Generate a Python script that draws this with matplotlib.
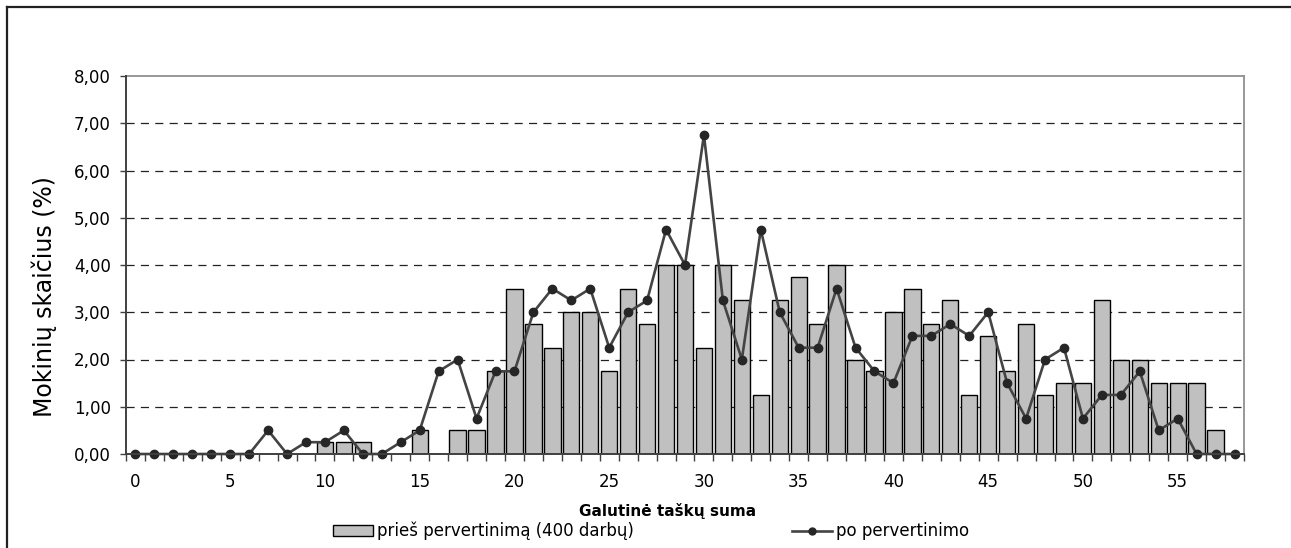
import matplotlib
matplotlib.use("Agg")
import matplotlib.pyplot as plt
from matplotlib.lines import Line2D
from matplotlib.patches import Patch
import numpy as np

# ---- data ----
scores = list(range(59))
before = [0, 0, 0, 0, 0, 0, 0, 0, 0, 0,
          0.25, 0.25, 0.25, 0, 0, 0.5, 0, 0.5, 0.5, 1.75,
          3.5, 2.75, 2.25, 3.0, 3.0, 1.75, 3.5, 2.75, 4.0, 4.0,
          2.25, 4.0, 3.25, 1.25, 3.25, 3.75, 2.75, 4.0, 2.0, 1.75,
          3.0, 3.5, 2.75, 3.25, 1.25, 2.5, 1.75, 2.75, 1.25, 1.5,
          1.5, 3.25, 2.0, 2.0, 1.5, 1.5, 1.5, 0.5, 0]
after = [0, 0, 0, 0, 0, 0, 0, 0.5, 0, 0.25,
         0.25, 0.5, 0, 0, 0.25, 0.5, 1.75, 2.0, 0.75, 1.75,
         1.75, 3.0, 3.5, 3.25, 3.5, 2.25, 3.0, 3.25, 4.75, 4.0,
         6.75, 3.25, 2.0, 4.75, 3.0, 2.25, 2.25, 3.5, 2.25, 1.75,
         1.5, 2.5, 2.5, 2.75, 2.5, 3.0, 1.5, 0.75, 2.0, 2.25,
         0.75, 1.25, 1.25, 1.75, 0.5, 0.75, 0, 0, 0]
yticks = [0, 1, 2, 3, 4, 5, 6, 7, 8]
xtick_labels = [0, 5, 10, 15, 20, 25, 30, 35, 40, 45, 50, 55]
label_before = "prieš pervertinimą (400 darbų)"
label_after = "po pervertinimo"
xlabel = "Galutinė taškų suma"
ylabel = "Mokinių skaičius (%)"

W, H = 1291, 548
fig = plt.figure(figsize=(W / 100, H / 100), dpi=100)
plt.rcParams['font.family'] = ['DejaVu Sans']

ax = fig.add_axes([126 / W, 1 - 454 / H, (1244 - 126) / W, (454 - 76) / H])

bars = ax.bar(scores, before, width=0.86, color='#C0C0C0', edgecolor='#000000',
              linewidth=1.0, zorder=2)
line, = ax.plot(scores, after, color='#444444', linewidth=1.9, marker='o',
                markersize=6, markerfacecolor='#262626', markeredgecolor='#262626',
                zorder=3, clip_on=False)

ax.set_xlim(-0.5, 58.5)
ax.set_ylim(0, 8)

# grid
for v in yticks[1:-1]:
    ax.axhline(v, color='#222222', linewidth=0.9, linestyle=(0, (6.5, 5)), zorder=1)

ax.set_yticks(yticks)
ax.set_yticklabels([f"{v:.2f}".replace('.', ',') for v in yticks], fontsize=12)
ax.set_xticks(xtick_labels)
ax.set_xticklabels([str(v) for v in xtick_labels], fontsize=12)
ax.set_xticks(np.arange(-0.5, 59.0, 1.0), minor=True)
ax.tick_params(axis='x', which='major', length=0, pad=14)
ax.tick_params(axis='x', which='minor', length=5, width=1.0, color='#404040', direction='out')
ax.tick_params(axis='y', which='major', length=4, width=1.0, color='#404040', pad=7)

for s in ['left', 'bottom']:
    ax.spines[s].set_color('#404040')
    ax.spines[s].set_linewidth(1.4)
    ax.spines[s].set_zorder(4)
for s in ['top', 'right']:
    ax.spines[s].set_color('#909090')
    ax.spines[s].set_linewidth(1.3)

fig.text(44 / W, 1 - 297 / H, ylabel, rotation=90, ha='center', va='center', fontsize=17)
fig.text(668 / W, 1 - 516 / H, xlabel, ha='center', va='baseline', fontsize=11, fontweight='bold')

handles = [Patch(facecolor='#C0C0C0', edgecolor='#000000', linewidth=1.0),
           Line2D([0], [0], color='#444444', linewidth=1.9, marker='o', markersize=5,
                  markerfacecolor='#262626', markeredgecolor='#262626')]
fig.legend(handles, [label_before, label_after], loc='center',
           bbox_to_anchor=(651 / W, 1 - 531 / H), ncol=2, frameon=False, fontsize=12,
           handlelength=2.4, handleheight=0.6, handletextpad=0.25, columnspacing=9.5,
           borderpad=0, borderaxespad=0)

# outer chart frame (left and top edges visible)
fig.add_artist(Line2D([7 / W, 7 / W], [0, 1 - 7 / H], transform=fig.transFigure,
                      color='#222222', linewidth=1.6))
fig.add_artist(Line2D([7 / W, 1], [1 - 7 / H, 1 - 7 / H], transform=fig.transFigure,
                      color='#222222', linewidth=1.6))

fig.savefig("out.png", dpi=100)
